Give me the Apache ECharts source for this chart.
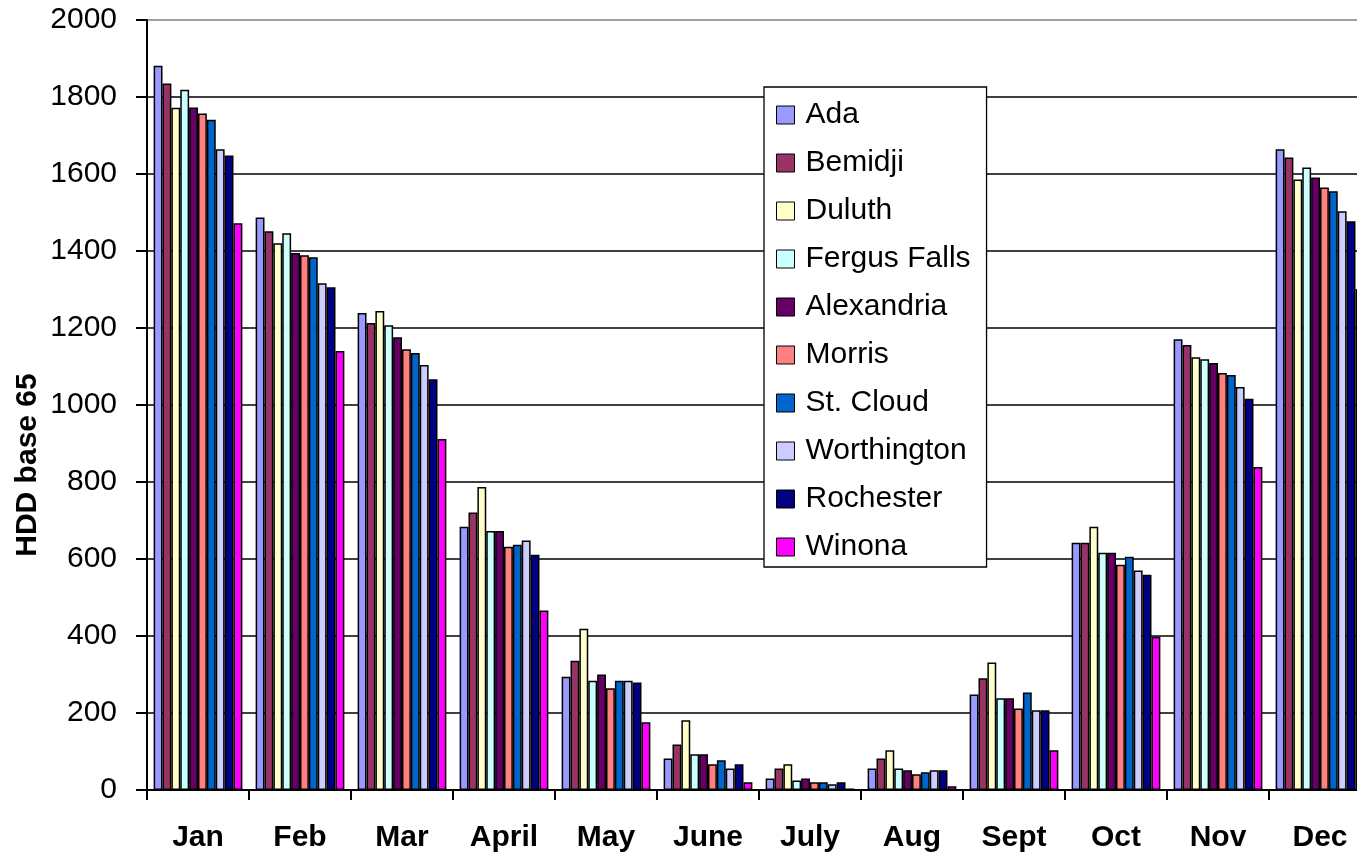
<!DOCTYPE html>
<html>
<head>
<meta charset="utf-8">
<title>HDD base 65</title>
<script src="https://cdn.jsdelivr.net/npm/echarts@6/dist/echarts.min.js"></script>
<style>
  html, body { margin: 0; padding: 0; background: #fff; overflow: hidden; }
  /* the original is cropped on the right, so the chart is a bit wider than the window */
  #chart { width: 1371px; height: 858px; }
</style>
</head>
<body>
<div id="chart"></div>
<script>
// months on the x axis
const months = ["Jan", "Feb", "Mar", "April", "May", "June", "July", "Aug", "Sept", "Oct", "Nov", "Dec"];
const yTicks = [0, 200, 400, 600, 800, 1000, 1200, 1400, 1600, 1800, 2000];

// heating degree days per station
const ada = [1881, 1487, 1239, 684, 294, 82, 30, 56, 248, 642, 1171, 1664];
const bemidji = [1835, 1451, 1213, 721, 336, 118, 56, 82, 290, 642, 1156, 1643];
const duluth = [1772, 1420, 1244, 787, 419, 181, 67, 103, 331, 684, 1124, 1586];
const fergusFalls = [1819, 1446, 1207, 673, 284, 93, 25, 56, 238, 616, 1119, 1617];
const alexandria = [1773, 1395, 1176, 673, 300, 93, 30, 51, 238, 616, 1109, 1591];
const morris = [1757, 1389, 1145, 632, 264, 67, 20, 41, 212, 585, 1083, 1565];
const stCloud = [1741, 1384, 1135, 637, 284, 77, 20, 46, 253, 606, 1078, 1555];
const worthington = [1664, 1316, 1104, 648, 284, 56, 15, 51, 207, 570, 1047, 1503];
const rochester = [1648, 1306, 1067, 611, 279, 67, 20, 51, 207, 559, 1016, 1477];
const winona = [1472, 1140, 912, 466, 176, 20, 4, 10, 103, 398, 839, 1301];

const stations = [
  { name: "Ada", data: ada },
  { name: "Bemidji", data: bemidji },
  { name: "Duluth", data: duluth },
  { name: "Fergus Falls", data: fergusFalls },
  { name: "Alexandria", data: alexandria },
  { name: "Morris", data: morris },
  { name: "St. Cloud", data: stCloud },
  { name: "Worthington", data: worthington },
  { name: "Rochester", data: rochester },
  { name: "Winona", data: winona }
];

// old excel palette
const barColors = ["#9999FF", "#993366", "#FFFFCC", "#CCFFFF", "#660066",
  "#FF8080", "#0066CC", "#CCCCFF", "#000080", "#FF00FF"];

const font = "'Liberation Sans', Arial, sans-serif";

const chart = echarts.init(document.getElementById("chart"), null, { renderer: "canvas" });

let series = stations.map((s, i) => {
  return {
    name: s.name,
    type: "bar",
    data: s.data,
    barGap: "0%",
    barCategoryGap: "13%",
    itemStyle: {
      color: barColors[i],
      borderColor: "#000",
      borderWidth: 1.5
    },
    animation: false
  };
});

// grid lines black, top one grey
let splitColors = yTicks.map((t) => (t === 2000 ? "#808080" : "#000"));

chart.setOption({
  backgroundColor: "#fff",
  animation: false,
  grid: {
    left: 147,
    right: 0,
    top: 20,
    bottom: 68,
    containLabel: false
  },
  legend: {
    orient: "vertical",
    left: 764,
    top: 87,
    padding: [13, 16, 5, 12],
    itemGap: 18,
    itemWidth: 18,
    itemHeight: 18,
    icon: "rect",
    backgroundColor: "#fff",
    borderColor: "#000",
    borderWidth: 1.3,
    itemStyle: { borderColor: "#000", borderWidth: 1 },
    textStyle: {
      fontFamily: font,
      fontSize: 30,
      color: "#000",
      padding: [0, 0, 0, 6]
    },
    data: stations.map((s) => s.name)
  },
  xAxis: {
    type: "category",
    data: months,
    axisLine: { lineStyle: { color: "#000", width: 2 } },
    axisTick: { show: true, length: 10, lineStyle: { color: "#000", width: 2 } },
    axisLabel: {
      margin: 33,
      fontFamily: font,
      fontSize: 30,
      fontWeight: "bold",
      color: "#000",
      interval: 0
    },
    splitLine: { show: false }
  },
  yAxis: {
    type: "value",
    min: 0,
    max: 2000,
    interval: 200,
    axisLine: { show: true, lineStyle: { color: "#000", width: 2 } },
    axisTick: { show: true, length: 11, lineStyle: { color: "#000", width: 2 } },
    axisLabel: {
      margin: 30,
      fontFamily: font,
      fontSize: 30,
      color: "#000",
      formatter: (v) => String(v)
    },
    splitLine: { show: true, lineStyle: { color: splitColors, width: 1.5 } }
  },
  graphic: [
    {
      type: "text",
      x: 28,
      y: 465,
      rotation: Math.PI / 2,
      style: {
        text: "HDD base 65",
        fontFamily: font,
        fontSize: 30,
        fontWeight: "bold",
        fill: "#000",
        textAlign: "center",
        textVerticalAlign: "middle"
      }
    }
  ],
  series: series
});
</script>
</body>
</html>
